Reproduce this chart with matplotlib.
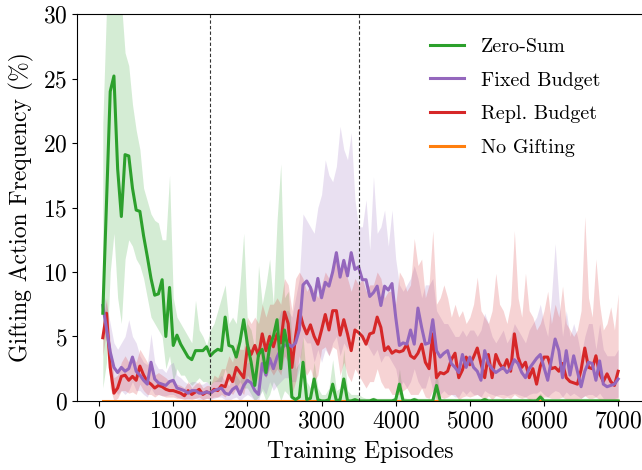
import matplotlib
matplotlib.use("Agg")
import matplotlib.pyplot as plt
import numpy as np

plt.rcParams["font.family"] = ["cmr10", "DejaVu Serif"]
plt.rcParams["mathtext.fontset"] = "cm"
plt.rcParams["axes.formatter.use_mathtext"] = True
plt.rcParams["font.size"] = 17

### Data: one sample every 50 episodes, 50..7000
episodes = list(range(50, 7001, 50))

zero_sum = [
    6.8, 15.5, 24.0, 25.2, 18.0, 14.3, 19.1, 19.0, 16.5, 14.8,
    14.7, 12.8, 11.2, 9.5, 8.2, 8.3, 9.4, 5.0, 8.8, 4.3,
    5.1, 4.4, 3.9, 3.4, 3.2, 3.9, 3.9, 3.9, 4.2, 3.5,
    3.8, 4.0, 3.9, 6.5, 4.3, 4.2, 3.4, 4.6, 6.3, 4.4,
    3.0, 1.2, 3.6, 4.0, 2.2, 4.2, 5.0, 6.3, 2.5, 5.5,
    4.0, 0.3, 0.1, 0.3, 3.0, 0.1, 0.2, 1.7, 0.1, 0.0,
    0.0, 0.1, 1.3, 0.0, 0.1, 1.7, 0.0, 0.0, 0.1, 0.0,
    0.0, 0.0, 0.0, 0.1, 0.0, 0.0, 0.0, 0.0, 0.0, 0.1,
    1.3, 0.0, 0.0, 0.0, 0.1, 0.0, 0.0, 0.0, 0.0, 0.0,
    1.2, 0.0, 0.0, 0.0, 0.0, 0.0, 0.0, 0.0, 0.0, 0.0,
    0.0, 0.0, 0.0, 0.1, 0.0, 0.0, 0.0, 0.0, 0.0, 0.0,
    0.0, 0.0, 0.0, 0.0, 0.0, 0.0, 0.0, 0.0, 0.3, 0.0,
    0.0, 0.0, 0.0, 0.0, 0.0, 0.0, 0.0, 0.0, 0.0, 0.0,
    0.0, 0.0, 0.0, 0.0, 0.0, 0.0, 0.0, 0.0, 0.0, 0.0,
]
zero_sum_low = [
    1.0, 3.0, 10.0, 13.0, 8.0, 6.0, 11.0, 12.5, 12.0, 11.0,
    10.5, 9.5, 8.0, 6.5, 6.0, 5.5, 5.0, 2.5, 3.5, 1.5,
    2.5, 2.0, 2.0, 1.5, 1.2, 1.5, 1.8, 1.5, 1.5, 1.2,
    1.5, 1.5, 1.5, 2.5, 1.5, 1.8, 1.0, 1.5, 1.0, 1.0,
    0.5, 0.0, 0.3, 0.8, 0.0, 0.5, 1.5, 1.0, 0.0, 0.8,
    0.5, 0.0, 0.0, 0.0, 0.0, 0.0, 0.0, 0.0, 0.0, 0.0,
    0.0, 0.0, 0.0, 0.0, 0.0, 0.0, 0.0, 0.0, 0.0, 0.0,
    0.0, 0.0, 0.0, 0.0, 0.0, 0.0, 0.0, 0.0, 0.0, 0.0,
    0.0, 0.0, 0.0, 0.0, 0.0, 0.0, 0.0, 0.0, 0.0, 0.0,
    0.0, 0.0, 0.0, 0.0, 0.0, 0.0, 0.0, 0.0, 0.0, 0.0,
    0.0, 0.0, 0.0, 0.0, 0.0, 0.0, 0.0, 0.0, 0.0, 0.0,
    0.0, 0.0, 0.0, 0.0, 0.0, 0.0, 0.0, 0.0, 0.0, 0.0,
    0.0, 0.0, 0.0, 0.0, 0.0, 0.0, 0.0, 0.0, 0.0, 0.0,
    0.0, 0.0, 0.0, 0.0, 0.0, 0.0, 0.0, 0.0, 0.0, 0.0,
]
zero_sum_high = [
    21.5, 30.5, 32.0, 33.0, 33.0, 31.0, 27.0, 26.0, 23.0, 21.0,
    19.5, 16.5, 15.5, 14.5, 14.0, 13.8, 12.5, 12.5, 17.5, 8.0,
    6.5, 6.0, 5.5, 5.0, 4.5, 7.8, 5.5, 5.0, 4.3, 5.5,
    6.0, 7.0, 8.0, 9.0, 6.0, 6.5, 6.0, 9.0, 13.0, 6.0,
    5.5, 4.0, 10.5, 7.5, 9.0, 11.0, 7.5, 14.0, 18.4, 8.0,
    8.5, 5.0, 2.5, 3.0, 5.0, 1.5, 1.0, 3.0, 1.0, 0.5,
    0.5, 1.0, 3.2, 0.8, 1.0, 4.0, 0.8, 0.5, 0.5, 0.5,
    0.3, 0.2, 0.2, 0.3, 0.2, 0.2, 0.2, 0.2, 0.2, 0.3,
    2.5, 0.3, 0.2, 0.2, 0.3, 0.2, 0.2, 0.2, 0.2, 0.2,
    2.5, 0.2, 0.2, 0.2, 0.2, 0.2, 0.2, 0.2, 0.2, 0.2,
    0.2, 0.2, 0.2, 0.3, 0.2, 0.2, 0.2, 0.2, 0.2, 0.2,
    0.2, 0.2, 0.2, 0.2, 0.2, 0.2, 0.2, 0.2, 0.6, 0.2,
    0.2, 0.2, 0.2, 0.2, 0.2, 0.2, 0.2, 0.2, 0.2, 0.2,
    0.2, 0.2, 0.2, 0.2, 0.2, 0.2, 0.2, 0.2, 0.2, 0.2,
]

fixed_budget = [
    7.4, 5.6, 3.8, 2.6, 2.2, 2.6, 2.3, 2.5, 3.4, 2.3,
    2.0, 1.6, 1.3, 3.0, 1.7, 1.4, 1.3, 1.2, 1.5, 1.6,
    1.0, 0.9, 0.8, 0.6, 0.8, 0.8, 0.6, 0.6, 0.7, 0.6,
    0.8, 0.9, 1.0, 0.6, 0.5, 0.9, 1.1, 0.5, 1.2, 1.6,
    1.4, 0.8, 0.5, 2.9, 2.0, 3.3, 2.5, 3.4, 4.0, 4.3,
    4.4, 4.2, 4.5, 5.5, 9.0, 9.3, 8.8, 7.8, 9.5, 8.0,
    9.2, 8.9, 10.0, 11.5, 9.6, 10.9, 9.7, 11.5, 10.2, 10.4,
    9.4, 9.4, 8.1, 8.4, 8.9, 7.4, 8.9, 8.6, 9.1, 6.5,
    4.3, 4.5, 4.4, 5.5, 4.4, 7.2, 5.7, 4.4, 4.5, 6.3,
    3.9, 3.4, 3.7, 3.9, 2.9, 2.6, 2.2, 3.6, 2.6, 3.4,
    2.6, 2.3, 1.6, 3.9, 2.9, 2.5, 2.2, 2.4, 2.6, 2.2,
    2.5, 3.2, 2.9, 2.2, 1.8, 2.5, 2.9, 3.3, 3.6, 2.6,
    1.6, 3.2, 4.8, 3.9, 1.8, 3.9, 2.0, 3.5, 2.3, 1.1,
    2.3, 3.0, 2.9, 1.6, 3.1, 1.3, 1.1, 1.2, 1.3, 1.7,
]
fixed_budget_low = [
    6.0, 4.5, 2.0, 1.0, 0.5, 0.8, 0.5, 0.8, 1.5, 0.8,
    0.8, 0.5, 0.3, 1.0, 0.5, 0.5, 0.4, 0.4, 0.5, 0.5,
    0.3, 0.2, 0.2, 0.1, 0.2, 0.2, 0.1, 0.1, 0.2, 0.1,
    0.2, 0.3, 0.3, 0.1, 0.0, 0.2, 0.3, 0.0, 0.3, 0.5,
    0.3, 0.0, 0.0, 1.0, 0.5, 1.5, 0.8, 1.2, 1.5, 1.8,
    1.8, 1.5, 1.5, 2.5, 5.0, 4.5, 4.5, 3.0, 4.0, 3.0,
    4.0, 3.5, 4.5, 5.0, 3.5, 4.5, 4.0, 5.0, 5.5, 6.0,
    5.0, 4.5, 4.0, 3.5, 4.0, 3.0, 3.5, 3.5, 3.0, 2.5,
    1.0, 1.5, 1.0, 1.5, 2.5, 1.5, 1.0, 1.0, 2.0, 0.8,
    0.8, 0.5, 0.8, 0.5, 0.5, 0.3, 0.3, 0.8, 0.5, 0.8,
    0.5, 0.5, 0.3, 0.8, 0.6, 0.5, 0.4, 0.5, 0.5, 0.4,
    0.5, 0.6, 0.5, 0.4, 0.3, 0.5, 0.6, 0.6, 0.8, 0.5,
    0.3, 0.6, 0.8, 0.7, 0.3, 0.7, 0.4, 0.6, 0.4, 0.2,
    0.4, 0.5, 0.5, 0.3, 0.6, 0.2, 0.2, 0.2, 0.2, 0.3,
]
fixed_budget_high = [
    8.5, 7.5, 6.0, 4.5, 4.0, 4.5, 5.0, 6.3, 5.0, 4.5,
    3.5, 3.0, 2.8, 5.2, 3.0, 2.5, 2.5, 2.2, 2.8, 3.0,
    2.0, 1.8, 1.5, 1.3, 1.5, 1.5, 1.3, 1.3, 1.5, 1.2,
    1.5, 1.7, 2.0, 1.5, 1.2, 1.8, 2.0, 1.5, 2.5, 3.0,
    3.0, 2.0, 1.5, 5.0, 4.0, 5.5, 4.5, 6.0, 7.0, 7.0,
    7.0, 6.5, 8.0, 9.5, 14.5, 14.0, 13.5, 13.0, 15.0, 16.0,
    18.7, 17.5, 17.0, 18.2, 21.3, 19.5, 18.7, 20.8, 15.6, 13.5,
    13.5, 15.6, 11.7, 17.4, 13.0, 13.5, 14.8, 12.0, 14.8, 11.0,
    9.0, 8.5, 9.0, 9.5, 10.5, 9.5, 8.0, 9.0, 9.0, 9.5,
    7.0, 6.5, 6.0, 6.0, 5.5, 5.0, 5.0, 5.5, 5.0, 5.5,
    5.5, 5.0, 5.5, 6.8, 6.0, 5.0, 4.5, 5.0, 5.5, 4.5,
    5.0, 6.0, 5.5, 5.0, 4.5, 5.5, 6.0, 6.5, 7.5, 6.0,
    5.0, 8.0, 12.2, 8.0, 5.0, 7.0, 5.0, 6.0, 5.0, 3.5,
    5.0, 6.0, 6.0, 4.0, 6.0, 4.0, 3.5, 3.5, 3.5, 4.0,
]

repl_budget = [
    4.9, 6.8, 2.6, 0.6, 1.0, 1.9, 2.0, 1.6, 1.9, 1.6,
    2.7, 2.0, 1.5, 1.3, 1.0, 1.2, 1.1, 0.9, 0.8, 0.8,
    0.7, 0.6, 0.4, 0.8, 0.5, 0.7, 0.9, 0.5, 0.7, 0.6,
    0.9, 0.8, 1.2, 1.1, 2.0, 1.5, 2.6, 2.2, 1.8, 4.2,
    3.6, 4.3, 3.5, 5.2, 3.9, 5.0, 4.2, 5.2, 4.5, 6.9,
    6.0, 2.6, 5.0, 7.0, 5.9, 5.2, 5.9, 5.0, 4.4, 5.5,
    6.7, 5.5, 7.0, 7.0, 5.1, 6.3, 5.2, 3.9, 5.5, 5.3,
    5.0, 4.4, 5.2, 5.3, 6.5, 5.7, 3.9, 4.2, 3.7, 3.9,
    3.8, 3.9, 4.4, 3.5, 3.3, 3.7, 4.4, 3.0, 2.5, 5.2,
    1.8, 2.2, 2.1, 2.3, 3.2, 3.7, 1.8, 2.4, 3.4, 2.8,
    3.4, 4.1, 2.9, 1.8, 3.6, 1.8, 3.6, 2.9, 2.5, 3.2,
    2.3, 5.2, 3.4, 2.6, 3.0, 1.8, 2.5, 1.3, 2.7, 3.4,
    3.4, 2.5, 2.6, 2.3, 2.9, 1.8, 1.5, 1.4, 1.3, 2.4,
    4.1, 2.6, 2.5, 3.5, 2.1, 1.5, 2.1, 1.5, 1.2, 2.3,
]
repl_budget_low = [
    3.5, 5.5, 1.0, 0.0, 0.2, 0.8, 0.8, 0.6, 0.7, 0.5,
    1.3, 0.8, 0.5, 0.5, 0.3, 0.5, 0.4, 0.3, 0.3, 0.3,
    0.2, 0.2, 0.1, 0.2, 0.1, 0.2, 0.3, 0.1, 0.2, 0.2,
    0.3, 0.3, 0.5, 0.3, 0.8, 0.5, 1.0, 0.8, 0.5, 2.0,
    1.5, 2.0, 1.5, 2.5, 1.8, 2.5, 2.0, 2.5, 2.0, 3.5,
    3.0, 0.5, 1.5, 3.5, 2.5, 2.0, 2.5, 1.5, 2.0, 4.0,
    4.2, 3.5, 4.2, 4.0, 2.0, 3.0, 2.0, 1.5, 2.5, 2.0,
    1.5, 1.0, 1.5, 1.5, 2.5, 1.5, 1.0, 1.0, 0.5, 0.5,
    0.5, 0.8, 1.0, 0.5, 0.5, 0.5, 1.0, 0.3, 0.2, 0.8,
    0.1, 0.3, 0.2, 0.3, 0.5, 0.5, 0.1, 0.3, 0.4, 0.3,
    0.4, 0.5, 0.3, 0.1, 0.4, 0.1, 0.4, 0.3, 0.2, 0.3,
    0.2, 0.5, 0.3, 0.2, 0.3, 0.1, 0.2, 0.0, 0.2, 0.3,
    0.3, 0.2, 0.2, 0.2, 0.3, 0.1, 0.1, 0.1, 0.1, 0.2,
    0.4, 0.2, 0.2, 0.3, 0.1, 0.1, 0.1, 0.1, 0.0, 0.2,
]
repl_budget_high = [
    6.0, 8.0, 4.5, 1.8, 2.0, 3.0, 3.5, 3.0, 3.5, 3.0,
    4.0, 3.5, 3.0, 2.5, 2.0, 2.2, 2.0, 1.8, 1.5, 1.5,
    1.3, 1.2, 1.0, 1.5, 1.0, 1.3, 1.5, 1.0, 1.2, 1.2,
    2.0, 1.8, 2.5, 2.5, 3.5, 3.0, 4.5, 4.0, 4.0, 6.5,
    6.0, 6.5, 6.0, 7.5, 6.5, 7.5, 7.5, 8.0, 7.5, 9.5,
    9.0, 7.0, 9.5, 10.0, 9.5, 8.5, 9.0, 8.5, 8.0, 9.0,
    10.0, 9.5, 10.5, 11.5, 10.0, 10.5, 9.5, 8.5, 9.5, 9.0,
    9.5, 8.5, 9.0, 9.0, 10.0, 9.5, 8.0, 8.5, 8.5, 7.5,
    10.0, 9.5, 8.5, 9.0, 12.6, 10.5, 11.0, 8.0, 9.0, 13.2,
    7.5, 8.0, 9.0, 8.0, 6.5, 7.5, 6.5, 7.0, 6.0, 6.5,
    7.5, 9.6, 7.0, 6.5, 6.0, 7.0, 9.9, 7.5, 7.0, 6.0,
    7.5, 13.2, 8.0, 6.5, 9.9, 7.0, 6.5, 5.5, 6.0, 7.0,
    8.5, 6.0, 7.5, 6.5, 8.9, 6.0, 5.5, 5.0, 5.5, 7.0,
    14.3, 8.0, 6.5, 11.0, 7.5, 5.5, 6.0, 7.3, 5.5, 8.3,
]

no_gifting = [0.0] * len(episodes)

labels = ["Zero-Sum", "Fixed Budget", "Repl. Budget", "No Gifting"]
colours = ["#2ca02c", "#9467bd", "#d62728", "#ff7f0e"]
phase_marks = [1500, 3500]

fig = plt.figure(figsize=(6.42, 4.70), dpi=100)
ax = fig.add_axes([0.12, 0.147, 0.883, 0.823])

series = [
    (zero_sum, zero_sum_low, zero_sum_high),
    (fixed_budget, fixed_budget_low, fixed_budget_high),
    (repl_budget, repl_budget_low, repl_budget_high),
    (no_gifting, no_gifting, no_gifting),
]

x = np.array(episodes)
for (mean, low, high), colour in zip(series, colours):
    ax.fill_between(x, low, high, color=colour, alpha=0.2, lw=0)
for (mean, low, high), colour, label in zip(series[::-1], colours[::-1],
                                           labels[::-1]):
    ax.plot(x, mean, color=colour, lw=2.2, label=label)

for mark in phase_marks:
    ax.axvline(mark, color="#333333", ls="--", lw=0.8, dashes=(3, 2))

ax.set_ylim(0, 30)
ax.set_yticks(range(0, 31, 5))
ax.set_xticks(range(0, 7001, 1000))
ax.set_xlabel("Training Episodes", labelpad=6)
ax.set_ylabel("Gifting Action Frequency (%)", labelpad=6)
ax.spines["right"].set_visible(False)

handles, names = ax.get_legend_handles_labels()
order = [names.index(name) for name in labels]
ax.legend([handles[i] for i in order], [names[i] for i in order],
          loc="upper left", bbox_to_anchor=(0.608, 0.96), frameon=False,
          borderaxespad=0, handlelength=1.7, handletextpad=0.85,
          labelspacing=0.78, fontsize=14.5)

fig.savefig("out.png", dpi=100)
